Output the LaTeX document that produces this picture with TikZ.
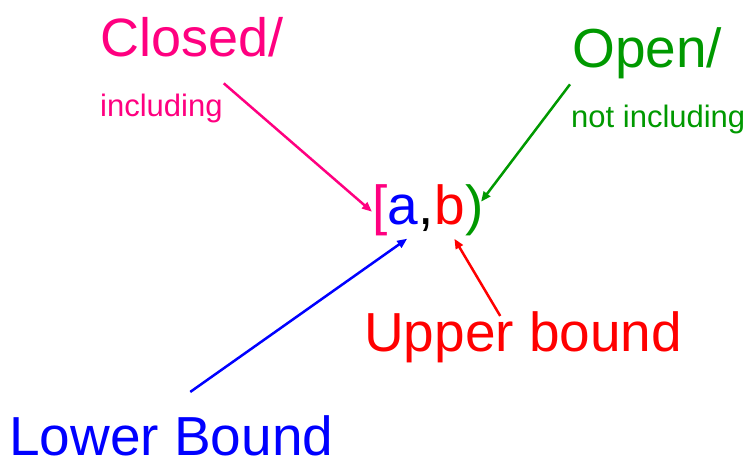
\documentclass[tikz,border=0pt]{standalone}
\usepackage{fontspec}
\setmainfont{Liberation Sans}
\usetikzlibrary{positioning, arrows.meta, calc}
\definecolor{pinkc}{RGB}{255,0,128}
\definecolor{greenc}{RGB}{0,153,0}

\begin{document}
\begin{tikzpicture}[
  x=1pt, y=1pt,
  >={Triangle[length=10pt, width=8pt]},
  big/.style   = {inner sep=0pt, anchor=base west, font=\fontsize{55}{60}\selectfont},
  small/.style = {inner sep=0pt, anchor=base west, font=\fontsize{31}{36}\selectfont},
  glyph/.style = {big, text height=40pt, text depth=13.5pt},
  arr/.style   = {->, line width=2.5pt},
]
  \useasboundingbox (0,0) rectangle (746,462);
  % the interval [a,b) in the middle, one node per glyph
  \node[glyph, text=pinkc]             (lbr)   at (372,237) {[};
  \node[glyph, text=blue,  right=0pt of lbr]   (lo)    {a};
  \node[glyph, text=black, right=0pt of lo]    (comma) {,};
  \node[glyph, text=red,   right=0pt of comma] (up)    {b};
  \node[glyph, text=greenc, right=0pt of up]   (rpar)  {)};

  % labels round it
  \node[big,   text=pinkc, font=\fontsize{54}{60}\selectfont] (closed) at (100,405) {Closed/};
  \node[small, text=pinkc]  (incl)    at (100,345) {including};
  \node[big,   text=greenc] (open)    at (572,394) {Open/};
  \node[small, text=greenc] (notincl) at (571,334) {not including};
  \node[big,   text=red]    (upper)   at (364,110) {Upper bound};
  \node[big,   text=blue]   (lower)   at (9,6)     {Lower Bound};

  \draw[arr, pinkc]  ($(incl.north east)+(1,11)$)     -- (lbr.west);
  \draw[arr, greenc] ($(notincl.north west)+(-1,21)$) -- ($(rpar.east)+(-3,10)$);
  \draw[arr, blue]   ($(lower.north)+(19,24)$)        -- ($(lo.south)+(4,0)$);
  \draw[arr, red]    ($(upper.north)+(-23,-4)$)       -- ($(up.south)+(4.5,0)$);
\end{tikzpicture}
\end{document}
